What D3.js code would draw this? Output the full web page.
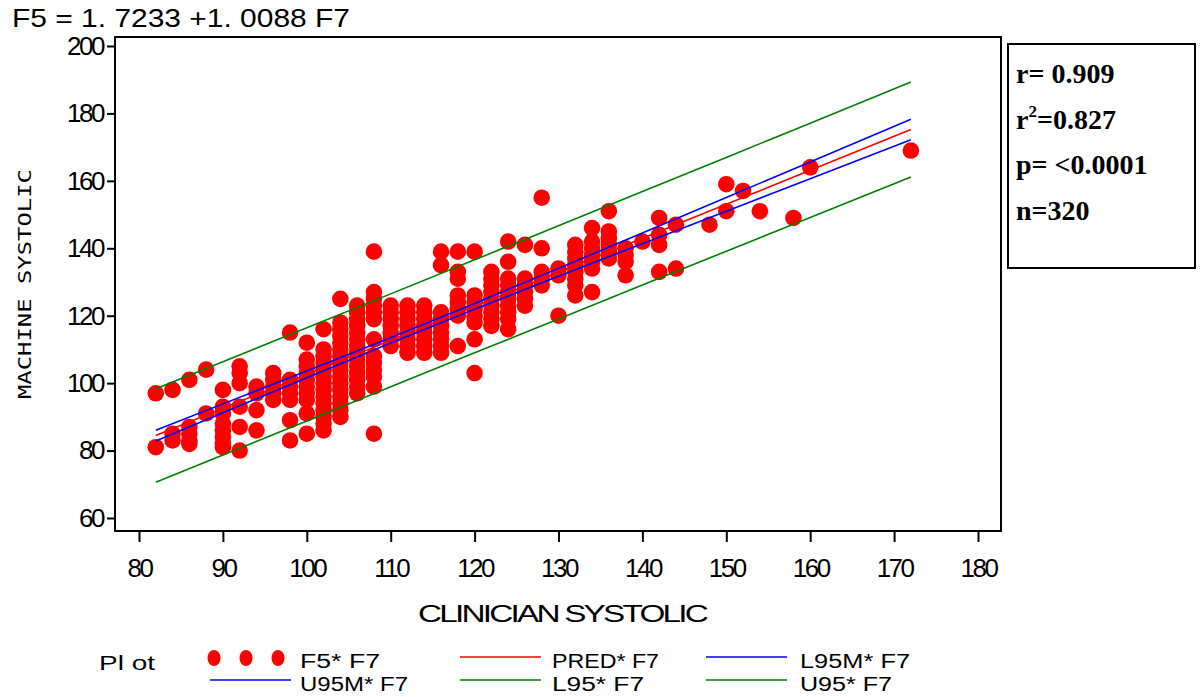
<!DOCTYPE html>
<html>
<head>
<meta charset="utf-8">
<script src="https://cdn.jsdelivr.net/npm/d3@7"></script>
<style>
  body { margin: 0; background: #fff; }
</style>
</head>
<body>
<div id="chart"></div>
<script>
// observed values: clinician systolic (x) and machine systolic readings at that x
var obsX = [82, 84, 86, 88, 90, 92, 94, 96, 98, 100, 102, 104, 106, 108, 110, 112, 114, 116, 118, 120,
  122, 124, 126, 128, 130, 132, 134, 136, 138, 140, 142, 144, 148, 150, 152, 154, 158, 160, 172];
var obsY = [
  [97, 81],
  [98, 85, 83],
  [101, 87, 85, 83, 82],
  [104, 91],
  [98, 93, 91, 88, 86, 84, 82, 81],
  [105, 103, 100, 93, 87, 80],
  [99, 97, 92, 86],
  [103, 101, 99, 97, 95],
  [115, 101, 99, 97, 95, 89, 83],
  [112, 107, 105, 103, 101, 99, 97, 95, 91, 85],
  [116, 110, 108, 106, 104, 102, 100, 98, 96, 94, 92, 90, 88, 86],
  [125, 118, 116, 114, 112, 110, 108, 106, 104, 102, 100, 98, 96, 94, 92, 90],
  [123, 121, 119, 117, 115, 113, 111, 109, 107, 105, 103, 101, 99, 97],
  [139, 127, 125, 123, 121, 119, 113, 108, 106, 104, 102, 99, 85],
  [123, 121, 119, 117, 115, 113, 111],
  [123, 121, 119, 117, 115, 113, 111, 109],
  [123, 121, 119, 117, 115, 113, 111, 109],
  [139, 135, 121, 119, 117, 115, 113, 111, 109],
  [139, 133, 131, 126, 124, 122, 120, 111],
  [139, 126, 124, 122, 120, 118, 113, 103],
  [133, 131, 129, 127, 125, 123, 121, 119, 117],
  [142, 136, 131, 129, 127, 125, 123, 121, 119, 116],
  [141, 131, 129, 127, 125, 123],
  [155, 140, 133, 131, 129],
  [134, 132, 120],
  [141, 139, 137, 135, 133, 131, 129, 126],
  [146, 142, 140, 138, 136, 134, 127],
  [151, 145, 143, 141, 139, 137],
  [140, 138, 136, 132],
  [142],
  [149, 144, 141, 133],
  [147, 134],
  [147],
  [159, 151],
  [157],
  [151],
  [149],
  [164],
  [169]
];

// fitted line and 95% bands, read at these x values
var bandX = [82, 90, 100, 110, 120, 130, 140, 150, 160, 172];
var predY = [84.45, 92.52, 102.60, 112.69, 122.78, 132.87, 142.96, 153.04, 163.13, 175.24];
var l95mY = [82.85, 91.19, 101.63, 111.91, 121.92, 131.70, 141.38, 151.01, 160.64, 172.18];
var u95mY = [86.05, 93.85, 103.57, 113.47, 123.64, 134.04, 144.54, 155.07, 165.62, 178.30];
var l95Y = [70.58, 78.69, 88.80, 98.90, 108.99, 119.05, 129.10, 139.12, 149.14, 161.14];
var u95Y = [98.32, 106.35, 116.40, 126.48, 136.57, 146.69, 156.82, 166.96, 177.12, 189.34];

var xTicks = [80, 90, 100, 110, 120, 130, 140, 150, 160, 170, 180];
var yTicks = [60, 80, 100, 120, 140, 160, 180, 200];
var statLines = ["r= 0.909", "r2=0.827", "p= <0.0001", "n=320"];

var width = 1203, height = 697;
var frame = {left: 115, right: 1001, top: 37, bottom: 531};
var sans = "Liberation Sans, Arial, sans-serif";

var svg = d3.select("#chart").append("svg").attr("width", width).attr("height", height)
  .style("font-family", sans);

var x = d3.scaleLinear().domain([80, 180]).range([139, 978]);
var y = d3.scaleLinear().domain([60, 200]).range([518, 46]);

var points = [];
obsX.forEach(function(v, i) {
  obsY[i].forEach(function(w) { points.push({x: v, y: w}); });
});

// title
svg.append("text").attr("x", 12).attr("y", 27).style("font-size", "25px")
  .attr("textLength", 338).attr("lengthAdjust", "spacingAndGlyphs")
  .text("F5 = 1. 7233 +1. 0088 F7");

// frame
svg.append("rect").attr("x", frame.left).attr("y", frame.top)
  .attr("width", frame.right - frame.left).attr("height", frame.bottom - frame.top)
  .attr("fill", "none").attr("stroke", "#000").attr("stroke-width", 2);

// axes
var yAxis = svg.append("g").attr("transform", "translate(" + frame.left + ",0)")
  .call(d3.axisLeft(y).tickValues(yTicks).tickSize(8).tickPadding(4));
var xAxis = svg.append("g").attr("transform", "translate(0," + frame.bottom + ")")
  .call(d3.axisBottom(x).tickValues(xTicks).tickSize(11).tickPadding(17));
[xAxis, yAxis].forEach(function(a) {
  a.select(".domain").remove();
  a.selectAll(".tick line").attr("stroke", "#000").attr("stroke-width", 2);
  a.selectAll(".tick text").style("font-size", "26px").style("letter-spacing", "-2.5px")
    .style("font-family", sans).attr("fill", "#000");
});

// axis titles
svg.append("text").attr("transform", "translate(31,284) rotate(-90)")
  .attr("text-anchor", "middle").style("font-size", "17px")
  .style("font-family", "DejaVu Sans Mono, monospace")
  .attr("textLength", 230).attr("lengthAdjust", "spacingAndGlyphs")
  .text("MACHINE SYSTOLIC");
svg.append("text").attr("x", 418).attr("y", 622).style("font-size", "24px")
  .style("letter-spacing", "-2px")
  .attr("textLength", 288).attr("lengthAdjust", "spacingAndGlyphs")
  .text("CLINICIAN SYSTOLIC");

// scatter
svg.append("g").selectAll("circle").data(points).enter().append("circle")
  .attr("cx", function(d) { return x(d.x); })
  .attr("cy", function(d) { return y(d.y); })
  .attr("r", 8.3).attr("fill", "#ff0000");

// lines
var line = d3.line().x(function(d) { return x(d[0]); }).y(function(d) { return y(d[1]); });
var series = [
  {vals: l95Y, color: "#008000"},
  {vals: u95Y, color: "#008000"},
  {vals: predY, color: "#ff0000"},
  {vals: l95mY, color: "#0000ff"},
  {vals: u95mY, color: "#0000ff"}
];
series.forEach(function(s) {
  svg.append("path").datum(d3.zip(bandX, s.vals)).attr("d", line)
    .attr("fill", "none").attr("stroke", s.color).attr("stroke-width", 1.6);
});

// stats box
svg.append("rect").attr("x", 1008).attr("y", 44).attr("width", 187).attr("height", 224)
  .attr("fill", "none").attr("stroke", "#000").attr("stroke-width", 2);
var stat = svg.append("g").style("font-family", "Liberation Serif, Times New Roman, serif")
  .style("font-weight", "bold").style("font-size", "28px");
statLines.forEach(function(t, i) {
  var tx = stat.append("text").attr("x", 1016).attr("y", 83 + i * 45.5);
  if (t.indexOf("r2") === 0) {
    tx.append("tspan").text("r");
    tx.append("tspan").style("font-size", "17px").attr("dy", -12).text("2");
    tx.append("tspan").attr("dy", 12).text(t.slice(2));
  } else {
    tx.text(t);
  }
});

// legend
var leg = svg.append("g").style("font-size", "20px");
leg.append("text").attr("x", 99).attr("y", 670).attr("textLength", 56)
  .attr("lengthAdjust", "spacingAndGlyphs").text("Pl ot");
[214, 246, 278].forEach(function(cx) {
  leg.append("ellipse").attr("cx", cx).attr("cy", 658).attr("rx", 6.5).attr("ry", 8).attr("fill", "#ff0000");
});
var legItems = [
  {label: "F5* F7", col: 0, row: 0, color: null, w: 80},
  {label: "PRED* F7", col: 1, row: 0, color: "#ff0000", w: 107},
  {label: "L95M* F7", col: 2, row: 0, color: "#0000ff", w: 110},
  {label: "U95M* F7", col: 0, row: 1, color: "#0000ff", w: 108},
  {label: "L95* F7", col: 1, row: 1, color: "#008000", w: 92},
  {label: "U95* F7", col: 2, row: 1, color: "#008000", w: 92}
];
var colX = [210, 460, 706], textX = [300, 552, 800];
legItems.forEach(function(d) {
  var ly = 657 + d.row * 23;
  if (d.color) {
    leg.append("line").attr("x1", colX[d.col]).attr("x2", colX[d.col] + 81)
      .attr("y1", ly).attr("y2", ly).attr("stroke", d.color).attr("stroke-width", 1.6);
  }
  leg.append("text").attr("x", textX[d.col]).attr("y", ly + 11)
    .attr("textLength", d.w).attr("lengthAdjust", "spacingAndGlyphs").text(d.label);
});
</script>
</body>
</html>
